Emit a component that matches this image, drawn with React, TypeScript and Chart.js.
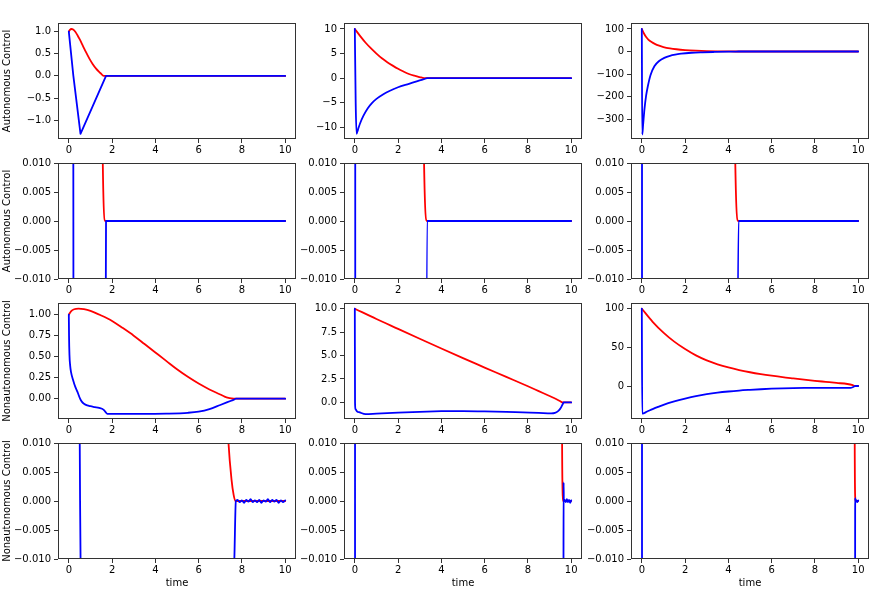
import React, { useEffect, useRef } from 'react';
import Chart from 'chart.js/auto';

type Pt = [number, number];

// time axis ticks
const xTicks = [0, 2, 4, 6, 8, 10];

// autonomous control, initial value 1
const autoRed1: Pt[] = [[0, 1.0], [0.05, 1.04], [0.12, 1.06], [0.2, 1.05], [0.3, 1.0], [0.4, 0.92], [0.5, 0.83], [0.65, 0.68], [0.8, 0.53], [0.95, 0.39], [1.1, 0.27], [1.25, 0.17], [1.4, 0.09], [1.5, 0.045], [1.57, 0.01], [1.69, 0], [10, 0]];
const autoBlue1: Pt[] = [[0, 1.0], [0.21, 0], [0.54, -1.31], [1.1, -0.69], [1.72, 0], [10, 0]];

// autonomous control, initial value 10
const autoRed2: Pt[] = [[0, 10], [0.25, 8.55], [0.5, 7.2], [0.75, 6.05], [1.0, 5.0], [1.25, 4.05], [1.5, 3.25], [1.75, 2.55], [2.0, 1.9], [2.25, 1.35], [2.5, 0.85], [2.75, 0.5], [3.0, 0.22], [3.2, 0.01], [3.34, 0], [10, 0]];
const autoBlue2: Pt[] = [[0, 10], [0.04, -5], [0.08, -11.3], [0.15, -10.4], [0.25, -9.1], [0.4, -7.6], [0.6, -6.1], [0.8, -5.0], [1.0, -4.2], [1.3, -3.3], [1.6, -2.6], [2.0, -1.85], [2.5, -1.15], [3.0, -0.45], [3.2, -0.2], [3.34, 0], [10, 0]];

// autonomous control, initial value 100
const autoRed3: Pt[] = [[0, 100], [0.1, 80], [0.2, 64], [0.3, 53], [0.45, 42], [0.6, 34], [0.8, 26], [1.0, 20], [1.3, 14], [1.6, 10], [2.0, 6.5], [2.5, 3.8], [3.0, 2.0], [3.5, 0.9], [4.0, 0.3], [4.32, 0.01], [4.46, 0], [10, 0]];
const autoBlue3: Pt[] = [[0, 100], [0.02, -368], [0.06, -325], [0.12, -258], [0.2, -195], [0.28, -153], [0.4, -105], [0.58, -65], [0.8, -42], [1.04, -28], [1.3, -19], [1.6, -13], [1.82, -9.5], [2.3, -5.5], [2.8, -3.5], [3.35, -2], [4.0, -0.6], [4.3, -0.2], [4.47, 0], [10, 0]];

// nonautonomous control, initial value 1
const nonRed1: Pt[] = [[0, 1.0], [0.1, 1.04], [0.25, 1.065], [0.45, 1.072], [0.7, 1.065], [1.0, 1.045], [1.5, 0.99], [2.0, 0.925], [2.5, 0.84], [3.0, 0.75], [3.5, 0.65], [4.0, 0.55], [4.5, 0.45], [5.0, 0.35], [5.5, 0.26], [6.0, 0.18], [6.5, 0.11], [7.0, 0.05], [7.2, 0.025], [7.38, 0.01], [7.52, 0.0037], [7.62, 0.001], [7.7, 0], [10, 0]];
const nonBlue1: Pt[] = [[0, 1.0], [0.01, 0.75], [0.03, 0.52], [0.06, 0.4], [0.1, 0.32], [0.2, 0.22], [0.3, 0.14], [0.4, 0.08], [0.52, 0], [0.6, -0.035], [0.7, -0.06], [0.85, -0.08], [1.0, -0.09], [1.2, -0.1], [1.4, -0.11], [1.6, -0.13], [1.7, -0.16], [1.78, -0.18], [2.5, -0.182], [3.5, -0.182], [4.5, -0.178], [5.5, -0.168], [6.0, -0.155], [6.5, -0.125], [7.0, -0.075], [7.3, -0.045], [7.5, -0.025], [7.65, -0.01], [7.72, 0],
  [7.8, 0.0002], [7.9, -0.0002], [8.0, 0.0001], [8.1, -0.0003], [8.2, 0.0002], [8.3, -0.0001], [8.4, 0.0003], [8.5, -0.0002], [8.6, 0.0001], [8.7, -0.0002], [8.8, 0.0002], [8.9, -0.0003], [9.0, 0.0001], [9.1, -0.0001], [9.2, 0.0003], [9.3, -0.0002], [9.4, 0.0002], [9.5, -0.0001], [9.6, 0.0002], [9.7, -0.0003], [9.8, 0.0001], [9.9, -0.0002], [10, 0.0001]];

// nonautonomous control, initial value 10
const nonRed2: Pt[] = [[0, 10], [1, 8.9], [2, 7.85], [3, 6.8], [4, 5.75], [5, 4.72], [6, 3.72], [7, 2.72], [8, 1.72], [8.5, 1.2], [9, 0.68], [9.3, 0.36], [9.5, 0.12], [9.58, 0.01], [9.6, 0.002], [9.62, 0], [10, 0]];
const nonBlue2: Pt[] = [[0, 10], [0.01, 0], [0.03, -0.7], [0.1, -0.95], [0.23, -1.07], [0.5, -1.25], [1.0, -1.2], [2.0, -1.1], [3.0, -1.0], [4.0, -0.94], [5.0, -0.92], [6.0, -0.95], [7.0, -1.01], [7.77, -1.07], [8.5, -1.12], [9.08, -1.17], [9.25, -1.12], [9.38, -0.96], [9.48, -0.72], [9.54, -0.5], [9.6, -0.22], [9.645, -0.01], [9.65, 0.0032], [9.66, 0],
  [9.7, 0.0002], [9.75, -0.0002], [9.8, 0.0003], [9.85, -0.0002], [9.9, 0.0002], [9.95, -0.0003], [10, 0.0001]];

// nonautonomous control, initial value 100
const nonRed3: Pt[] = [[0, 100], [0.5, 83.1], [1.0, 69.1], [1.5, 57.4], [2.0, 47.8], [2.5, 39.6], [3.0, 33.1], [3.5, 28.1], [4.0, 24.0], [4.5, 20.6], [5.0, 17.8], [5.5, 15.4], [6.0, 13.3], [6.5, 11.4], [7.0, 9.8], [7.5, 8.25], [8.0, 6.75], [8.5, 5.35], [9.0, 3.95], [9.5, 2.6], [9.75, 1.0], [9.84, 0.01], [9.865, 0.0005], [9.87, 0], [10, 0]];
const nonBlue3: Pt[] = [[0, 100], [0.02, -35.8], [0.25, -33.0], [0.5, -29.9], [0.75, -27.0], [1.0, -24.3], [1.5, -20.0], [2.0, -16.4], [2.5, -13.2], [3.0, -10.6], [3.5, -8.6], [4.0, -7.1], [4.5, -5.9], [5.0, -5.0], [5.5, -4.2], [6.0, -3.5], [6.5, -3.0], [7.0, -2.7], [7.5, -2.55], [8.5, -2.5], [9.65, -2.5], [9.77, -1.3], [9.859, -0.01], [9.862, 0.0005], [9.87, 0],
  [9.9, 0.0002], [9.95, -0.0002], [10, 0.0001]];

// y ticks
const ticksA1 = [-1.0, -0.5, 0, 0.5, 1.0];
const ticksA2 = [-10, -5, 0, 5, 10];
const ticksA3 = [-300, -200, -100, 0, 100];
const ticksZoom = [-0.01, -0.005, 0, 0.005, 0.01];
const ticksN1 = [0, 0.25, 0.5, 0.75, 1.0];
const ticksN2 = [0, 2.5, 5, 7.5, 10];
const ticksN3 = [0, 50, 100];

Chart.defaults.font.family = 'DejaVu Sans';
Chart.defaults.font.size = 10;
Chart.defaults.color = '#000';

const fmt = (v: number, d: number) => {
  const s = Math.abs(v).toFixed(d);
  return v < -1e-12 ? '\u2212' + s : s;
};

// matplotlib style box round the plot area
const framePlugin = {
  id: 'frame',
  afterDatasetsDraw(chart: any) {
    const { ctx, chartArea: { left, top, right, bottom } } = chart;
    ctx.save();
    ctx.strokeStyle = '#333';
    ctx.lineWidth = 1;
    ctx.strokeRect(left + 0.5, top + 0.5, right - left - 1, bottom - top - 1);
    ctx.restore();
  },
};

const PW = 238, PH = 116, AXW = 58, PADT = 10, PADR = 4, AXH = 30;

interface SubProps {
  red: Pt[];
  blue: Pt[];
  yMin: number;
  yMax: number;
  yTicks: number[];
  dec: number;
  left: number;
  top: number;
  yTitle?: string;
  xTitle?: string;
  sharpBlue?: boolean;
}

const SubPlot: React.FC<SubProps> = ({ red, blue, yMin, yMax, yTicks, dec, left, top, yTitle, xTitle, sharpBlue }) => {
  const ref = useRef<HTMLCanvasElement | null>(null);

  useEffect(() => {
    if (!ref.current) return;
    const pts = (a: Pt[]) => a.map(([x, y]) => ({ x, y }));
    const line = { borderWidth: 1.8, pointRadius: 0, borderJoinStyle: 'round' as const, borderCapStyle: 'round' as const };
    const chart = new Chart(ref.current, {
      type: 'line',
      data: {
        datasets: [
          { ...line, data: pts(red), borderColor: '#ff0000', cubicInterpolationMode: 'monotone', order: 1 },
          { ...line, data: pts(blue), borderColor: '#0000ff', cubicInterpolationMode: sharpBlue ? 'default' : 'monotone', tension: 0, order: 0 },
        ],
      },
      options: {
        animation: false,
        responsive: false,
        events: [],
        layout: { padding: { top: PADT, right: PADR, left: 0, bottom: 0 } },
        plugins: { legend: { display: false }, tooltip: { enabled: false } },
        scales: {
          x: {
            type: 'linear',
            min: -0.5,
            max: 10.5,
            afterFit: (s: any) => { s.height = AXH; },
            afterBuildTicks: (s: any) => { s.ticks = xTicks.map((v) => ({ value: v })); },
            grid: { drawOnChartArea: false, drawTicks: true, tickLength: 4, color: '#333' },
            border: { display: false },
            ticks: { padding: 1, autoSkip: false, maxRotation: 0, callback: (v: any) => String(v) },
            title: { display: !!xTitle, text: xTitle || '', padding: { top: 0, bottom: 0 } },
          },
          y: {
            type: 'linear',
            min: yMin,
            max: yMax,
            afterFit: (s: any) => { s.width = AXW; },
            afterBuildTicks: (s: any) => { s.ticks = yTicks.map((v) => ({ value: v })); },
            grid: { drawOnChartArea: false, drawTicks: true, tickLength: 4, color: '#333' },
            border: { display: false },
            ticks: { padding: 3, autoSkip: false, callback: (v: any) => fmt(Number(v), dec) },
            title: { display: !!yTitle, text: yTitle || '', padding: { top: 1, bottom: 0 } },
          },
        },
      },
      plugins: [framePlugin],
    });
    return () => chart.destroy();
  }, []);

  const w = AXW + PW + PADR;
  const h = PADT + PH + AXH;
  return (
    <canvas
      ref={ref}
      width={w}
      height={h}
      style={{ position: 'absolute', left: left - AXW, top: top - PADT, width: w, height: h }}
    />
  );
};

const cols = [58, 344, 631];
const rows = [23, 163, 303, 443];

export default function App() {
  return (
    <div style={{ position: 'fixed', left: 0, top: 0, width: 872, height: 593, background: '#fff', overflow: 'hidden' }}>
      <SubPlot red={autoRed1} blue={autoBlue1} sharpBlue yMin={-1.427} yMax={1.196} yTicks={ticksA1} dec={1} left={cols[0]} top={rows[0]} yTitle="Autonomous Control" />
      <SubPlot red={autoRed2} blue={autoBlue2} yMin={-12.36} yMax={11.21} yTicks={ticksA2} dec={0} left={cols[1]} top={rows[0]} />
      <SubPlot red={autoRed3} blue={autoBlue3} yMin={-388} yMax={126.5} yTicks={ticksA3} dec={0} left={cols[2]} top={rows[0]} />

      <SubPlot red={autoRed1} blue={autoBlue1} sharpBlue yMin={-0.01} yMax={0.01} yTicks={ticksZoom} dec={3} left={cols[0]} top={rows[1]} yTitle="Autonomous Control" />
      <SubPlot red={autoRed2} blue={autoBlue2} yMin={-0.01} yMax={0.01} yTicks={ticksZoom} dec={3} left={cols[1]} top={rows[1]} />
      <SubPlot red={autoRed3} blue={autoBlue3} yMin={-0.01} yMax={0.01} yTicks={ticksZoom} dec={3} left={cols[2]} top={rows[1]} />

      <SubPlot red={nonRed1} blue={nonBlue1} yMin={-0.242} yMax={1.139} yTicks={ticksN1} dec={2} left={cols[0]} top={rows[2]} yTitle="Nonautonomous Control" />
      <SubPlot red={nonRed2} blue={nonBlue2} yMin={-1.77} yMax={10.61} yTicks={ticksN2} dec={1} left={cols[1]} top={rows[2]} />
      <SubPlot red={nonRed3} blue={nonBlue3} yMin={-42.7} yMax={107.4} yTicks={ticksN3} dec={0} left={cols[2]} top={rows[2]} />

      <SubPlot red={nonRed1} blue={nonBlue1} yMin={-0.01} yMax={0.01} yTicks={ticksZoom} dec={3} left={cols[0]} top={rows[3]} yTitle="Nonautonomous Control" xTitle="time" />
      <SubPlot red={nonRed2} blue={nonBlue2} yMin={-0.01} yMax={0.01} yTicks={ticksZoom} dec={3} left={cols[1]} top={rows[3]} xTitle="time" />
      <SubPlot red={nonRed3} blue={nonBlue3} yMin={-0.01} yMax={0.01} yTicks={ticksZoom} dec={3} left={cols[2]} top={rows[3]} xTitle="time" />
    </div>
  );
}
